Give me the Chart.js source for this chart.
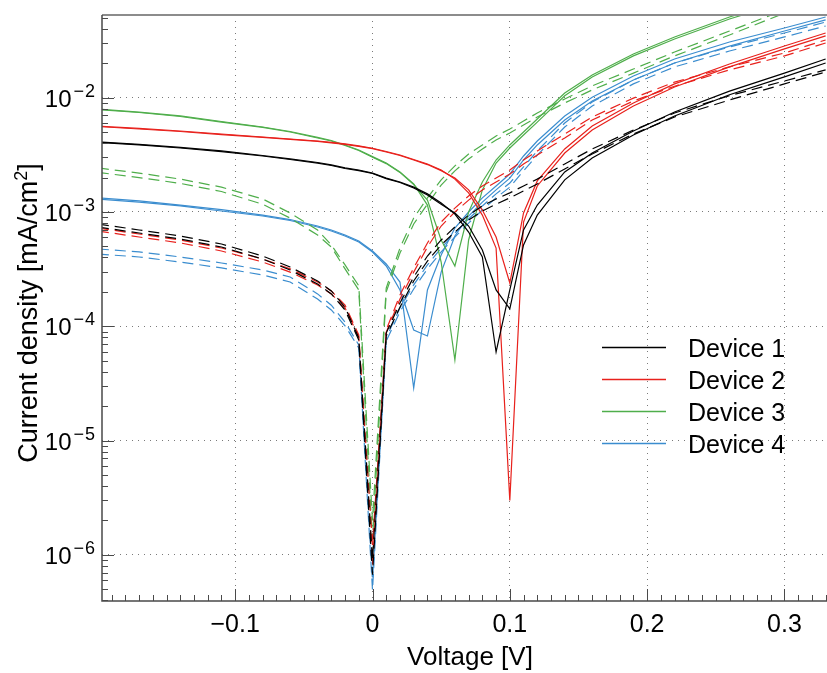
<!DOCTYPE html>
<html>
<head>
<meta charset="UTF-8">
<title>J-V curves</title>
<script src="https://cdn.jsdelivr.net/npm/chart.js"></script>
<style>
  body { margin: 0; background: #fff; }
  #jv { display: block; }
</style>
</head>
<body>
<canvas id="jv" width="827" height="673"></canvas>
<script>
// voltage points of the sweeps (V)
const voltage = [-0.2, -0.17, -0.14, -0.11, -0.08, -0.06, -0.04, -0.03, -0.02, -0.01, 0, 0.01, 0.02, 0.03, 0.04, 0.05, 0.06, 0.07, 0.08, 0.09, 0.1, 0.11, 0.12, 0.14, 0.16, 0.19, 0.22, 0.26, 0.3, 0.33];

// |J| in mA/cm2 - light (solid) and dark (dashed), two sweeps per device
const dev1Light1 = [4.10e-3, 3.90e-3, 3.67e-3, 3.42e-3, 3.12e-3, 2.91e-3, 2.71e-3, 2.58e-3, 2.43e-3, 2.33e-3, 2.19e-3, 1.98e-3, 1.83e-3, 1.65e-3, 1.44e-3, 1.20e-3, 9.60e-4, 6.68e-4, 4.04e-4, 5.96e-5, 2.08e-4, 6.96e-4, 1.15e-3, 2.24e-3, 3.28e-3, 5.11e-3, 7.49e-3, 1.14e-2, 1.64e-2, 2.18e-2];
const dev1Light2 = [4.06e-3, 3.86e-3, 3.63e-3, 3.38e-3, 3.09e-3, 2.88e-3, 2.68e-3, 2.55e-3, 2.40e-3, 2.30e-3, 2.17e-3, 1.96e-3, 1.81e-3, 1.62e-3, 1.41e-3, 1.17e-3, 9.80e-4, 7.54e-4, 4.65e-4, 2.08e-4, 1.42e-4, 5.15e-4, 9.40e-4, 1.91e-3, 2.97e-3, 4.72e-3, 6.92e-3, 1.06e-2, 1.52e-2, 2.01e-2];
const dev1Dark1 = [7.85e-4, 6.96e-4, 6.17e-4, 5.25e-4, 4.12e-4, 3.30e-4, 2.49e-4, 2.04e-4, 1.47e-4, 7.90e-5, 9.0e-7, 8.73e-5, 1.60e-4, 2.70e-4, 4.12e-4, 5.69e-4, 7.39e-4, 9.40e-4, 1.13e-3, 1.30e-3, 1.47e-3, 1.69e-3, 1.94e-3, 2.63e-3, 3.56e-3, 5.21e-3, 7.35e-3, 1.04e-2, 1.40e-2, 1.75e-2];
const dev1Dark2 = [7.39e-4, 6.55e-4, 5.80e-4, 4.94e-4, 3.88e-4, 3.11e-4, 2.34e-4, 1.92e-4, 1.39e-4, 7.59e-5, 6.7e-7, 8.22e-5, 1.47e-4, 2.49e-4, 3.72e-4, 5.15e-4, 6.68e-4, 8.51e-4, 1.02e-3, 1.17e-3, 1.33e-3, 1.53e-3, 1.76e-3, 2.38e-3, 3.22e-3, 4.81e-3, 6.78e-3, 9.55e-3, 1.32e-2, 1.68e-2];

const dev2Light1 = [5.65e-3, 5.38e-3, 5.11e-3, 4.81e-3, 4.53e-3, 4.35e-3, 4.18e-3, 4.07e-3, 3.95e-3, 3.79e-3, 3.61e-3, 3.38e-3, 3.15e-3, 2.88e-3, 2.63e-3, 2.33e-3, 1.94e-3, 1.47e-3, 9.40e-4, 4.84e-4, 3.0e-6, 8.17e-4, 1.69e-3, 3.28e-3, 5.21e-3, 8.46e-3, 1.24e-2, 1.86e-2, 2.67e-2, 3.47e-2];
const dev2Light2 = [5.60e-3, 5.32e-3, 5.06e-3, 4.76e-3, 4.49e-3, 4.31e-3, 4.14e-3, 4.03e-3, 3.91e-3, 3.75e-3, 3.58e-3, 3.35e-3, 3.12e-3, 2.85e-3, 2.60e-3, 2.30e-3, 1.98e-3, 1.56e-3, 1.04e-3, 6.04e-4, 2.39e-4, 9.80e-4, 1.87e-3, 3.56e-3, 5.65e-3, 8.99e-3, 1.32e-2, 1.97e-2, 2.83e-2, 3.68e-2];
const dev2Dark1 = [7.24e-4, 6.42e-4, 5.69e-4, 4.84e-4, 3.88e-4, 3.18e-4, 2.44e-4, 2.04e-4, 1.53e-4, 8.39e-5, 8.2e-7, 9.29e-5, 1.88e-4, 3.24e-4, 5.36e-4, 8.17e-4, 1.08e-3, 1.38e-3, 1.69e-3, 1.98e-3, 2.33e-3, 2.85e-3, 3.42e-3, 4.81e-3, 6.78e-3, 9.92e-3, 1.37e-2, 1.86e-2, 2.46e-2, 3.20e-2];
const dev2Dark2 = [6.82e-4, 6.04e-4, 5.36e-4, 4.56e-4, 3.65e-4, 2.98e-4, 2.30e-4, 1.92e-4, 1.45e-4, 8.06e-5, 1.22e-6, 8.9e-5, 1.73e-4, 2.98e-4, 4.94e-4, 7.54e-4, 1.00e-3, 1.27e-3, 1.56e-3, 1.83e-3, 2.15e-3, 2.63e-3, 3.15e-3, 4.44e-3, 6.38e-3, 9.36e-3, 1.26e-2, 1.75e-2, 2.32e-2, 3.01e-2];

const dev3Light1 = [7.96e-3, 7.49e-3, 6.92e-3, 6.19e-3, 5.54e-3, 5.06e-3, 4.49e-3, 4.22e-3, 3.86e-3, 3.49e-3, 3.05e-3, 2.68e-3, 2.24e-3, 1.76e-3, 1.15e-3, 3.65e-4, 5.07e-5, 5.69e-4, 1.56e-3, 2.68e-3, 3.63e-3, 4.72e-3, 6.12e-3, 1.04e-2, 1.52e-2, 2.32e-2, 3.26e-2, 4.88e-2, 6.87e-2, 8.76e-2];
const dev3Light2 = [7.88e-3, 7.42e-3, 6.85e-3, 6.12e-3, 5.49e-3, 5.01e-3, 4.44e-3, 4.18e-3, 3.82e-3, 3.45e-3, 3.01e-3, 2.65e-3, 2.22e-3, 1.74e-3, 1.27e-3, 5.69e-4, 3.37e-4, 1.00e-3, 1.83e-3, 2.85e-3, 3.86e-3, 5.01e-3, 6.51e-3, 1.10e-2, 1.58e-2, 2.41e-2, 3.40e-2, 5.08e-2, 7.15e-2, 9.12e-2];
const dev3Dark1 = [2.43e-3, 2.19e-3, 1.94e-3, 1.65e-3, 1.30e-3, 9.80e-4, 6.96e-4, 5.15e-4, 3.44e-4, 2.26e-4, 2.0e-6, 2.16e-4, 4.84e-4, 8.85e-4, 1.33e-3, 1.91e-3, 2.53e-3, 3.22e-3, 3.86e-3, 4.62e-3, 5.32e-3, 6.25e-3, 7.35e-3, 9.74e-3, 1.27e-2, 1.78e-2, 2.51e-2, 3.83e-2, 5.86e-2, 7.91e-2];
const dev3Dark2 = [2.22e-3, 2.00e-3, 1.78e-3, 1.51e-3, 1.17e-3, 8.85e-4, 6.29e-4, 4.94e-4, 3.18e-4, 2.08e-4, 1.35e-6, 2.00e-4, 4.38e-4, 7.85e-4, 1.17e-3, 1.72e-3, 2.29e-3, 2.91e-3, 3.56e-3, 4.26e-3, 4.91e-3, 5.77e-3, 6.78e-3, 8.99e-3, 1.17e-2, 1.64e-2, 2.32e-2, 3.54e-2, 5.49e-2, 7.30e-2];

const dev4Light1 = [1.33e-3, 1.25e-3, 1.15e-3, 1.05e-3, 9.40e-4, 8.59e-4, 7.54e-4, 6.96e-4, 6.29e-4, 5.57e-4, 4.56e-4, 3.51e-4, 2.44e-4, 2.88e-5, 2.08e-4, 4.21e-4, 7.24e-4, 1.00e-3, 1.33e-3, 1.69e-3, 2.15e-3, 3.09e-3, 4.18e-3, 6.92e-3, 1.01e-2, 1.55e-2, 2.18e-2, 3.07e-2, 4.07e-2, 5.08e-2];
const dev4Light2 = [1.30e-3, 1.22e-3, 1.13e-3, 1.02e-3, 9.22e-4, 8.42e-4, 7.39e-4, 6.82e-4, 6.17e-4, 5.47e-4, 4.47e-4, 3.37e-4, 2.08e-4, 9.29e-5, 8.22e-5, 2.98e-4, 6.17e-4, 9.22e-4, 1.22e-3, 1.56e-3, 1.98e-3, 2.85e-3, 3.86e-3, 6.38e-3, 9.36e-3, 1.43e-2, 2.01e-2, 2.83e-2, 3.83e-2, 4.79e-2];
const dev4Dark1 = [4.75e-4, 4.47e-4, 4.04e-4, 3.58e-4, 3.11e-4, 2.70e-4, 1.92e-4, 1.53e-4, 1.09e-4, 6.86e-5, 4.9e-7, 7.90e-5, 1.45e-4, 2.30e-4, 3.44e-4, 4.84e-4, 6.55e-4, 8.68e-4, 1.13e-3, 1.44e-3, 1.79e-3, 2.48e-3, 3.42e-3, 6.01e-3, 9.17e-3, 1.43e-2, 2.01e-2, 2.78e-2, 3.68e-2, 4.59e-2];
const dev4Dark2 = [4.29e-4, 4.04e-4, 3.65e-4, 3.24e-4, 2.81e-4, 2.44e-4, 1.73e-4, 1.39e-4, 1.01e-4, 6.46e-5, 6.0e-7, 7.44e-5, 1.34e-4, 2.12e-4, 3.18e-4, 4.47e-4, 6.04e-4, 8.00e-4, 1.04e-3, 1.33e-3, 1.65e-3, 2.29e-3, 3.15e-3, 5.54e-3, 8.46e-3, 1.32e-2, 1.86e-2, 2.56e-2, 3.40e-2, 4.24e-2];

const deviceLabels = ['Device 1', 'Device 2', 'Device 3', 'Device 4'];
const xTickValues = [-0.1, 0, 0.1, 0.2, 0.3];
const yTickValues = [1e-6, 1e-5, 1e-4, 1e-3, 1e-2];

const deviceColors = ['#000000', '#e8211c', '#4fae4b', '#3b8dcf'];
const FONT = "'Liberation Sans', Arial, Helvetica, sans-serif";

const curves = [
    [0, dev1Light1, false], [0, dev1Light2, false], [0, dev1Dark1, true], [0, dev1Dark2, true],
    [1, dev2Light1, false], [1, dev2Light2, false], [1, dev2Dark1, true], [1, dev2Dark2, true],
    [2, dev3Light1, false], [2, dev3Light2, false], [2, dev3Dark1, true], [2, dev3Dark2, true],
    [3, dev4Light1, false], [3, dev4Light2, false], [3, dev4Dark1, true], [3, dev4Dark2, true]
];

const datasets = curves.map(([dev, values, dark]) => ({
    label: deviceLabels[dev] + (dark ? ' dark' : ' light'),
    data: voltage.map((v, i) => ({ x: v, y: values[i] })),
    borderColor: deviceColors[dev],
    borderWidth: 1.2,
    borderDash: dark ? [11, 6] : [],
    pointRadius: 0,
    tension: 0,
    fill: false
}));

// frame, inward ticks, tick labels, axis titles and legend
const decorations = {
    id: 'decorations',
    afterDraw(chart) {
        const { ctx, chartArea: a, scales: { x, y } } = chart;
        ctx.save();

        ctx.strokeStyle = '#8c8c8c';
        ctx.lineWidth = 2;
        ctx.beginPath();
        ctx.moveTo(a.left, a.top);
        ctx.lineTo(a.right, a.top);
        ctx.stroke();

        ctx.strokeStyle = '#4a4a4a';
        ctx.lineWidth = 1.5;
        ctx.beginPath();
        ctx.moveTo(a.left, a.top);
        ctx.lineTo(a.left, a.bottom);
        ctx.lineTo(a.right, a.bottom);
        ctx.stroke();

        // minor + major ticks pointing into the plot
        ctx.lineWidth = 1;
        ctx.beginPath();
        for (let d = -7; d <= -1; d++) {
            for (let k = 1; k <= 9; k++) {
                const v = k * Math.pow(10, d);
                if (v < y.min || v > y.max) continue;
                const py = Math.round(y.getPixelForValue(v)) + 0.5;
                ctx.moveTo(a.left, py);
                ctx.lineTo(a.left + (k === 1 ? 12 : 6), py);
            }
        }
        for (let i = -19; i <= 33; i++) {
            const px = Math.round(x.getPixelForValue(i / 100)) + 0.5;
            ctx.moveTo(px, a.bottom);
            ctx.lineTo(px, a.bottom - (i % 10 === 0 ? 12 : 6));
        }
        ctx.stroke();

        ctx.fillStyle = '#000';
        ctx.textBaseline = 'alphabetic';

        // y tick labels 10^n
        yTickValues.forEach(v => {
            const py = y.getPixelForValue(v);
            const n = String(Math.round(-Math.log10(v)));
            ctx.textAlign = 'left';
            ctx.font = '18px ' + FONT;
            const mw = ctx.measureText('\u2212').width;
            const nw = ctx.measureText(n).width;
            const ex = 95 - nw - mw - 1;
            ctx.fillText('\u2212', ex, py - 1);
            ctx.fillText(n, ex + mw + 1, py - 1);
            ctx.font = '24px ' + FONT;
            ctx.textAlign = 'right';
            ctx.fillText('10', ex - 2, py + 9);
        });

        // x tick labels
        ctx.font = '25px ' + FONT;
        ctx.textAlign = 'center';
        xTickValues.forEach(v => {
            const txt = v < 0 ? '\u2212' + Math.abs(v) : String(v);
            ctx.fillText(txt, x.getPixelForValue(v), 632);
        });

        // x title
        ctx.font = '26px ' + FONT;
        ctx.fillText('Voltage [V]', 470, 665);

        // y title, rotated, with superscript 2
        ctx.save();
        ctx.translate(37, 313);
        ctx.rotate(-Math.PI / 2);
        const p1 = 'Current density [mA/cm', p2 = '2', p3 = ']';
        ctx.font = '27px ' + FONT;
        const w1 = ctx.measureText(p1).width, w3 = ctx.measureText(p3).width;
        ctx.font = '18px ' + FONT;
        const w2 = ctx.measureText(p2).width;
        const sx = -(w1 + w2 + w3) / 2;
        ctx.textAlign = 'left';
        ctx.font = '27px ' + FONT;
        ctx.fillText(p1, sx, 0);
        ctx.font = '18px ' + FONT;
        ctx.fillText(p2, sx + w1, -10);
        ctx.font = '27px ' + FONT;
        ctx.fillText(p3, sx + w1 + w2, 0);
        ctx.restore();

        // legend
        ctx.font = '25px ' + FONT;
        ctx.textAlign = 'left';
        deviceLabels.forEach((lab, i) => {
            const ly = 347.5 + i * 32;
            ctx.strokeStyle = deviceColors[i];
            ctx.lineWidth = 1.4;
            ctx.beginPath();
            ctx.moveTo(602, ly);
            ctx.lineTo(666, ly);
            ctx.stroke();
            ctx.fillText(lab, 688, ly + 9);
        });

        ctx.restore();
    }
};

new Chart(document.getElementById('jv'), {
    type: 'line',
    data: { datasets: datasets },
    options: {
        responsive: false,
        animation: false,
        devicePixelRatio: 1,
        layout: { padding: { top: 15, right: 0, left: 0, bottom: 0 } },
        plugins: { legend: { display: false }, tooltip: { enabled: false } },
        scales: {
            x: {
                type: 'linear',
                min: -0.197,
                max: 0.331,
                afterBuildTicks: s => { s.ticks = xTickValues.map(v => ({ value: v })); },
                afterFit: s => { s.height = 72; },
                ticks: { display: false },
                grid: { color: '#7a7a7a', lineWidth: 1, drawTicks: false },
                border: { display: false, dash: [1, 5] }
            },
            y: {
                type: 'logarithmic',
                min: 3.95e-7,
                max: 5.29e-2,
                afterBuildTicks: s => { s.ticks = yTickValues.map(v => ({ value: v })); },
                afterFit: s => { s.width = 102; },
                ticks: { display: false },
                grid: { color: '#7a7a7a', lineWidth: 1, drawTicks: false },
                border: { display: false, dash: [1, 5] }
            }
        }
    },
    plugins: [decorations]
});
</script>
</body>
</html>
